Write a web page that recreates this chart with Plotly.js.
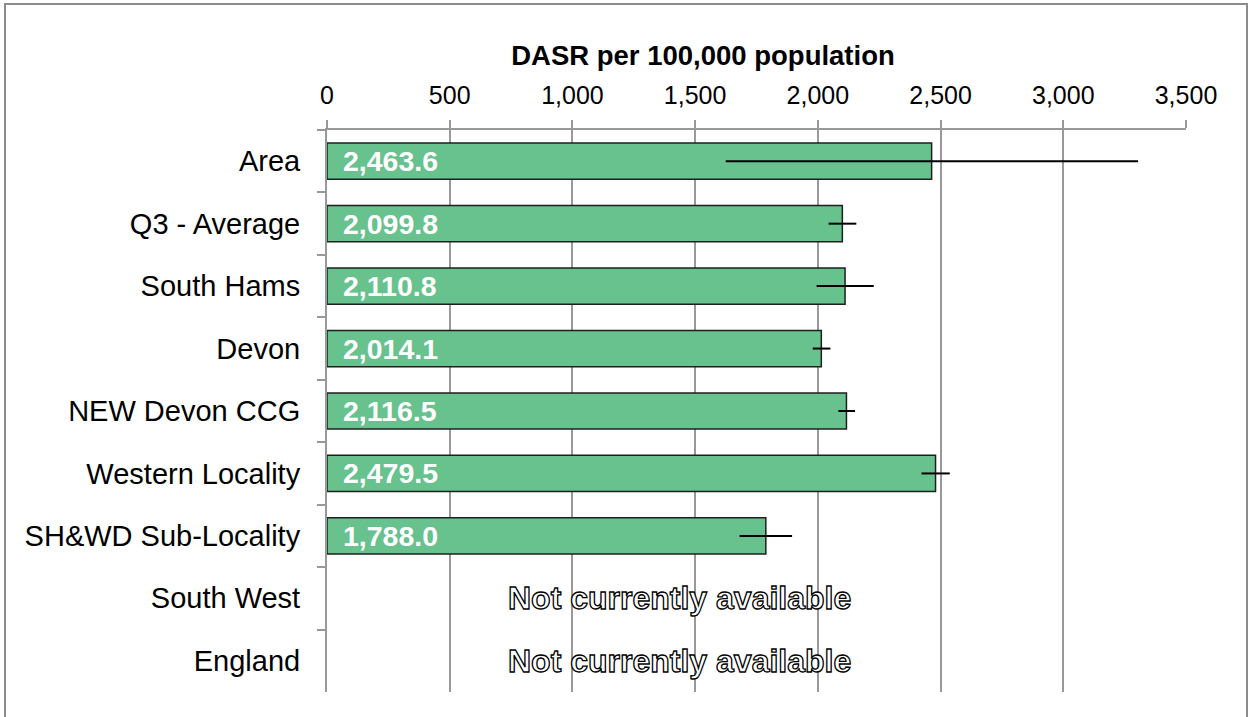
<!DOCTYPE html>
<html>
<head>
<meta charset="utf-8">
<script src="https://cdn.plot.ly/plotly-3.0.1.min.js"></script>
<style>
  html, body { margin: 0; padding: 0; background: #fff; }
  #chart { width: 1250px; height: 717px; }
</style>
</head>
<body>
<div id="chart"></div>
<script>
const categories = ["Area", "Q3 - Average", "South Hams", "Devon", "NEW Devon CCG",
  "Western Locality", "SH&WD Sub-Locality", "South West", "England"];
const values = [2463.6, 2099.8, 2110.8, 2014.1, 2116.5, 2479.5, 1788.0, null, null];
const errPlus = [841, 57, 117, 37, 35, 58, 107, null, null];
const errMinus = [839, 56, 116, 35, 33, 57, 107, null, null];
const xTicks = [0, 500, 1000, 1500, 2000, 2500, 3000, 3500];
const axisTitle = "DASR per 100,000 population";
const missingText = "Not currently available";

const FONT = "Liberation Sans, Arial, sans-serif";
const fmt = v => v.toLocaleString("en-GB", {minimumFractionDigits: 1, maximumFractionDigits: 1});

const trace = {
  type: "bar",
  orientation: "h",
  y: categories,
  x: values,
  marker: { color: "#67c28e", line: { color: "#1f1f1f", width: 1.5 } },
  error_x: {
    type: "data", symmetric: false,
    array: errPlus, arrayminus: errMinus,
    color: "#000", thickness: 2, width: 0
  },
  hoverinfo: "x+y"
};

const annotations = [];
categories.forEach((c, i) => {
  if (values[i] !== null) {
    annotations.push({
      x: 0, y: c, xref: "x", yref: "y", xanchor: "left", yanchor: "middle",
      xshift: 14, showarrow: false, text: fmt(values[i]),
      font: { family: FONT, size: 28.5, color: "#fff", weight: "bold" }
    });
  } else {
    annotations.push({
      x: 1436, y: c, xref: "x", yref: "y", xanchor: "center", yanchor: "middle",
      showarrow: false, text: missingText, name: "missing",
      font: { family: FONT, size: 32, color: "#fff", weight: "bold" }
    });
  }
});

const layout = {
  width: 1250, height: 717,
  margin: { l: 327, r: 64, t: 130, b: 25, pad: 0 },
  paper_bgcolor: "#fff", plot_bgcolor: "#fff",
  showlegend: false,
  bargap: 0.42,
  title: {
    text: "<b>" + axisTitle + "</b>",
    x: 703 / 1250, xanchor: "center", xref: "container",
    y: 1 - 55 / 717, yanchor: "middle", yref: "container",
    font: { family: FONT, size: 27.5, color: "#000" }
  },
  xaxis: {
    side: "top", range: [0, 3500], tickvals: xTicks,
    ticktext: xTicks.map(v => v.toLocaleString("en-GB")),
    showgrid: true, gridcolor: "#999", gridwidth: 2,
    showline: true, linecolor: "#999", linewidth: 2,
    ticks: "outside", ticklen: 8, tickcolor: "#999", tickwidth: 2,
    ticklabelstandoff: 6,
    zeroline: false,
    tickfont: { family: FONT, size: 25, color: "#000" },
    fixedrange: true
  },
  yaxis: {
    type: "category", autorange: "reversed",
    showline: true, linecolor: "#999", linewidth: 2,
    ticks: "outside", ticklen: 8, tickcolor: "#999", tickwidth: 2,
    tickson: "boundaries", ticklabelstandoff: 19,
    showgrid: false, zeroline: false,
    tickfont: { family: FONT, size: 29, color: "#000" },
    fixedrange: true
  },
  annotations: annotations,
  shapes: [{
    type: "path", xref: "paper", yref: "paper",
    path: "M " + ((5 - 327) / 859) + " -0.06 L " + ((5 - 327) / 859) + " " + ((692 - 4) / 562) +
          " L " + ((1247 - 327) / 859) + " " + ((692 - 4) / 562) + " L " + ((1247 - 327) / 859) + " -0.06",
    line: { color: "#8c8c8c", width: 2 }
  }]
};

Plotly.newPlot("chart", [trace], layout, { displayModeBar: false, staticPlot: true }).then(() => {
  document.querySelectorAll("#chart .annotation-text").forEach(t => {
    if (t.textContent === missingText) {
      t.style.stroke = "#000";
      t.style.strokeWidth = "1.3px";
      t.style.fill = "#fff";
    }
  });
});
</script>
</body>
</html>
